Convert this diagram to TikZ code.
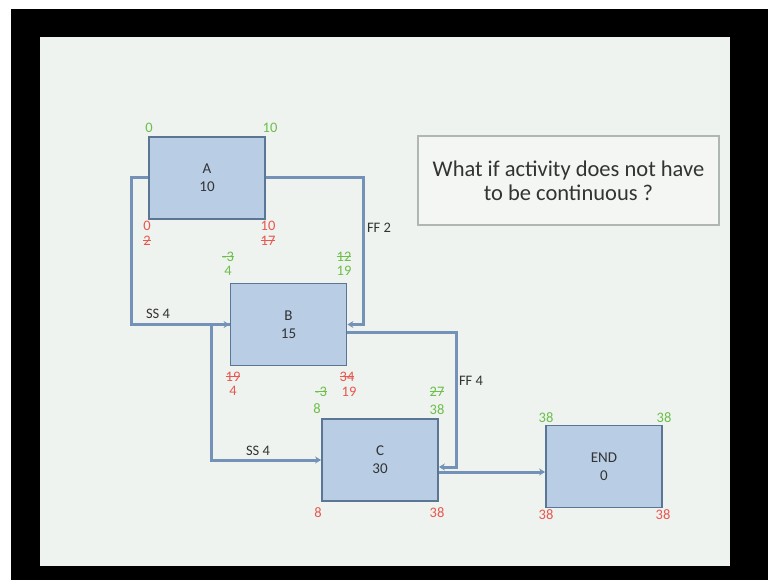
\documentclass[tikz,border=0pt]{standalone}
\usepackage{fontspec}
\setmainfont{Carlito}
\usetikzlibrary{calc,arrows.meta}
\newcommand\stk[1]{\setbox0\hbox{#1}\rlap{\rule[0.3em]{\wd0}{0.9pt}}#1}
\definecolor{slidebg}{HTML}{EEF3EF}
\definecolor{boxfill}{HTML}{B9CDE5}
\definecolor{boxline}{HTML}{5B7595}
\definecolor{connc}{HTML}{7491B8}
\definecolor{grn}{HTML}{6DBE4B}
\definecolor{rd}{HTML}{E8574F}
\definecolor{txt}{HTML}{333333}
\tikzset{
  actbox/.style={draw=boxline, line width=1.8pt, fill=boxfill, minimum width=116pt, minimum height=82pt, inner sep=0pt, align=center, text=txt, font=\fontsize{15}{18}\selectfont},
  num/.style={inner sep=0pt, font=\fontsize{14.5}{15}\selectfont},
  gnum/.style={num, text=grn},
  rnum/.style={num, text=rd},
  conn/.style={draw=connc, line width=3pt, -{Stealth[length=6pt,width=7pt]}},
  lag/.style={inner sep=0pt, text=txt, font=\fontsize{14.5}{15}\selectfont},
}
\begin{document}
\begin{tikzpicture}[x=1pt,y=-1pt]
\useasboundingbox (0,0) rectangle (768,580);
\fill[white] (0,0) rectangle (768,580);
\fill[black] (11,9) rectangle (768,580);
\fill[slidebg] (40,37) rectangle (730,566);

% question box
\node[draw={rgb,255:red,176;green,182;blue,176}, line width=1.8pt, fill={rgb,255:red,243;green,246;blue,243}, minimum width=301pt, minimum height=89pt, align=center, text=txt, font=\fontsize{22.5}{24}\selectfont] (q) at (568.5,180.5) {What if activity does not have\\to be continuous ?};

% activity boxes
\node[actbox] (A) at (207,178) {A\\10};
\node[actbox] (B) at (288.5,324.5) {B\\15};
\node[actbox] (C) at (380,460) {C\\30};
\node[actbox] (E) at (604,466.5) {END\\0};

% connectors
\coordinate (fa) at (363,324.5);
\draw[conn] (A.west) -- ++(-17,0) |- (B.west);
\draw[conn] (A.east) -| (fa) -- (B.east);
\draw[conn] (B.west) -- ++(-18,0) |- (C.west);
\coordinate (bs) at ($(B.east)+(0,7.5)$);
\coordinate (ce) at ($(C.east)+(0,7)$);
\coordinate (cs) at ($(C.east)+(0,12)$);
\draw[conn] (bs) -- ++(109,0) |- (ce);
\draw[conn] (cs) -- (cs -| E.west);

% lag labels
\node[lag] (l1) at (158,314) {SS 4};
\node[lag] (l2) at (379,228) {FF 2};
\node[lag] (l3) at (258,451) {SS 4};
\node[lag] (l4) at (471,381) {FF 4};

% A numbers
\node[gnum] (a1) at (149,128) {0};
\node[gnum] (a2) at (270,128) {10};
\node[rnum] (a3) at (147,226) {0};
\node[rnum] (a4) at (147,241) {\stk{2}};
\node[rnum] (a5) at (268,226) {10};
\node[rnum] (a6) at (268,241) {\stk{17}};

% B numbers
\node[gnum] (b1) at (228,257) {\stk{-3}};
\node[gnum] (b2) at (228,271) {4};
\node[gnum] (b3) at (344,257) {\stk{12}};
\node[gnum] (b4) at (344,271) {19};
\node[rnum] (b5) at (233,377) {\stk{19}};
\node[rnum] (b6) at (233,391) {4};
\node[rnum] (b7) at (347,377) {\stk{34}};
\node[rnum] (b8) at (349,392) {19};

% C numbers
\node[gnum] (c1) at (321,392) {\stk{-3}};
\node[gnum] (c2) at (317,409) {8};
\node[gnum] (c3) at (437,392) {\stk{27}};
\node[gnum] (c4) at (437,410) {38};
\node[rnum] (c5) at (318,513) {8};
\node[rnum] (c6) at (437,513) {38};

% END numbers
\node[gnum] (e1) at (546,418) {38};
\node[gnum] (e2) at (664,418) {38};
\node[rnum] (e3) at (546,515) {38};
\node[rnum] (e4) at (663,515) {38};
\end{tikzpicture}
\end{document}
